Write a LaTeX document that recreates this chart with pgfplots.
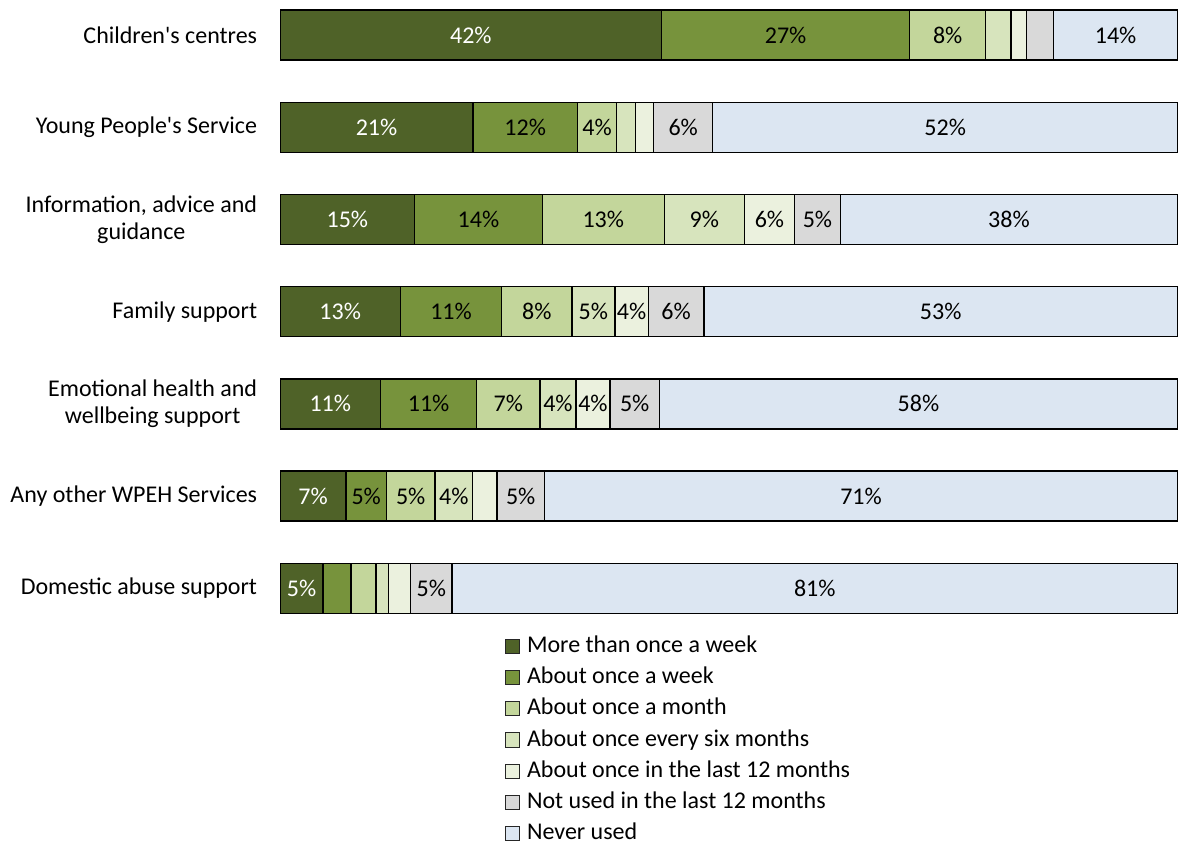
\documentclass[border=0pt]{standalone}
\usepackage{pgfplots}
\usepackage{pgfplotstable}
\pgfplotsset{compat=1.18}
\usepackage{fontspec}
\setmainfont{Carlito}
\definecolor{c1}{HTML}{4F6228}
\definecolor{c2}{HTML}{77933C}
\definecolor{c3}{HTML}{C3D69B}
\definecolor{c4}{HTML}{D7E4BD}
\definecolor{c5}{HTML}{EBF1DE}
\definecolor{c6}{HTML}{D9D9D9}
\definecolor{c7}{HTML}{DCE6F2}
% y: 6 Children's centres ... 0 Domestic abuse support
\pgfplotstableread{
y v lab
6 42.5 42\%
5 21.5 21\%
4 15.0 15\%
3 13.4 13\%
2 11.2 11\%
1 7.35 7\%
0 4.8 5\%
}\sA
\pgfplotstableread{
y v lab
6 27.6 27\%
5 11.6 12\%
4 14.2 14\%
3 11.3 11\%
2 10.7 11\%
1 4.5 5\%
0 3.1 {}
}\sB
\pgfplotstableread{
y v lab
6 8.5 8\%
5 4.4 4\%
4 13.6 13\%
3 7.8 8\%
2 7.05 7\%
1 5.4 5\%
0 2.8 {}
}\sC
\pgfplotstableread{
y v lab
6 2.8 {}
5 2.1 {}
4 8.9 9\%
3 4.8 5\%
2 4.0 4\%
1 4.2 4\%
0 1.4 {}
}\sD
\pgfplotstableread{
y v lab
6 1.7 {}
5 2.0 {}
4 5.6 6\%
3 3.7 4\%
2 3.8 4\%
1 2.7 {}
0 2.45 {}
}\sE
\pgfplotstableread{
y v lab
6 3.05 {}
5 6.6 6\%
4 5.1 5\%
3 6.2 6\%
2 5.5 5\%
1 5.3 5\%
0 4.6 5\%
}\sF
\pgfplotstableread{
y v lab
6 13.8 14\%
5 51.75 52\%
4 37.55 38\%
3 52.75 53\%
2 57.7 58\%
1 70.5 71\%
0 80.8 81\%
}\sG
\begin{document}
\begin{tikzpicture}
\path[use as bounding box] (0,0) rectangle (1178bp,845bp);
\begin{axis}[
  at={(280bp,231.7bp)}, anchor=south west,
  width=898bp, height=603.3bp, scale only axis,
  xbar stacked, bar width=50bp, bar shift=0pt,
  xmin=0, xmax=100, ymin=-0.2712, ymax=6.2712,
  axis line style={draw=none}, xtick=\empty,
  ytick={0,...,6},
  yticklabels={Domestic abuse support, Any other WPEH Services, {Emotional health and\\wellbeing support}, Family support, {Information, advice and\\guidance}, Young People\textquotesingle s Service, Children\textquotesingle s centres},
  major tick length=0pt, ytick style={draw=none},
  yticklabel style={align=center, inner sep=0pt, xshift=-22.7bp, font=\fontsize{24bp}{27bp}\selectfont},
  nodes near coords, point meta=explicit symbolic,
  every node near coord/.append style={anchor=center, inner sep=0pt, text=black, font=\fontsize{24bp}{27bp}\selectfont},
  every axis plot/.append style={draw=black, line width=1.3bp},
  legend cell align=left,
  legend image code/.code={\draw[#1, draw=black!85, line width=1bp] (0bp,-7bp) rectangle (14bp,7bp);},
  legend style={at={(0.2506,-0.0421)}, anchor=north west, draw=none, fill=none, inner sep=0pt,
    row sep=16.2bp, column sep=6.8bp, font=\fontsize{24bp}{27bp}\selectfont,
    nodes={inner sep=0pt, text height=13bp, text depth=1bp}},
]
\addplot[fill=c1, every node near coord/.append style={text=white}] table[x=v, y=y, meta=lab] {\sA};
\addlegendentry{More than once a week}
\addplot[fill=c2] table[x=v, y=y, meta=lab] {\sB};
\addlegendentry{About once a week}
\addplot[fill=c3] table[x=v, y=y, meta=lab] {\sC};
\addlegendentry{About once a month}
\addplot[fill=c4] table[x=v, y=y, meta=lab] {\sD};
\addlegendentry{About once every six months}
\addplot[fill=c5] table[x=v, y=y, meta=lab] {\sE};
\addlegendentry{About once in the last 12 months}
\addplot[fill=c6] table[x=v, y=y, meta=lab] {\sF};
\addlegendentry{Not used in the last 12 months}
\addplot[fill=c7] table[x=v, y=y, meta=lab] {\sG};
\addlegendentry{Never used}
\end{axis}
\end{tikzpicture}
\end{document}
